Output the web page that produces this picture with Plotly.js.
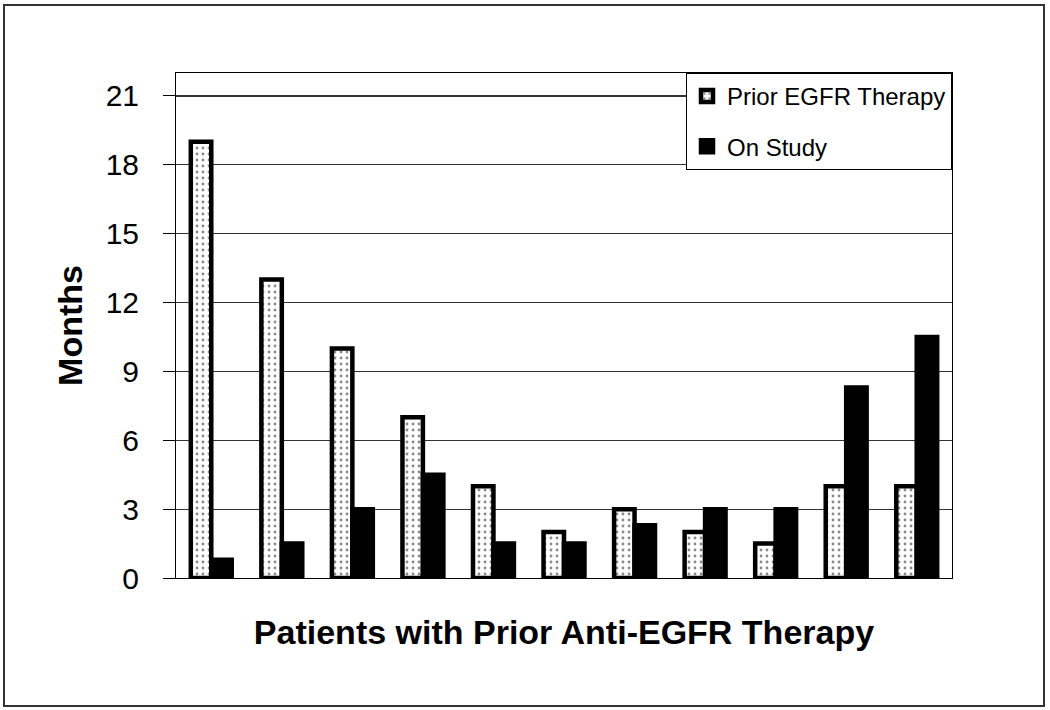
<!DOCTYPE html>
<html>
<head>
<meta charset="utf-8">
<script src="https://cdn.plot.ly/plotly-3.0.1.min.js"></script>
<style>
  html, body { margin: 0; padding: 0; background: #fff; }
  #chart { width: 1050px; height: 710px; }
</style>
</head>
<body>
<div id="chart"></div>
<script>
// Data
const patients = ['1', '2', '3', '4', '5', '6', '7', '8', '9', '10', '11'];
const priorEGFR = [19, 13, 10, 7, 4, 2, 3, 2, 1.5, 4, 4];
const onStudy   = [0.8, 1.5, 3, 4.5, 1.5, 1.5, 2.3, 3, 3, 8.3, 10.5];
const yTicks = [0, 3, 6, 9, 12, 15, 18, 21];
const seriesNames = ['Prior EGFR Therapy', 'On Study'];
const xTitle = 'Patients with Prior Anti-EGFR Therapy';
const yTitle = 'Months';

const FONT = 'Liberation Sans, Arial, sans-serif';

const traces = [
  {
    type: 'bar',
    name: seriesNames[0],
    legendgroup: 'a',
    x: patients,
    y: priorEGFR,
    marker: {
      color: '#ffffff',
      line: { color: '#000000', width: 4.5 },
      pattern: { shape: '.', fgcolor: '#8a8a8a', bgcolor: '#ffffff', size: 6, solidity: 0.18, fillmode: 'replace' }
    },
    hoverinfo: 'skip'
  },
  {
    type: 'bar',
    name: seriesNames[1],
    legendgroup: 'b',
    x: patients,
    y: onStudy,
    marker: { color: '#000000', line: { color: '#000000', width: 4.5 } },
    hoverinfo: 'skip'
  }
];

const layout = {
  width: 1050,
  height: 710,
  paper_bgcolor: '#ffffff',
  plot_bgcolor: '#ffffff',
  margin: { l: 176, r: 98, t: 73, b: 132, pad: 0 },
  barmode: 'group',
  bargap: 0.42,
  bargroupgap: 0,
  font: { family: FONT, color: '#000000' },
  showlegend: true,
  legend: {
    x: 1, xanchor: 'right', xref: 'paper',
    y: 1, yanchor: 'top', yref: 'paper',
    bgcolor: '#ffffff',
    bordercolor: '#000000',
    borderwidth: 1,
    font: { family: FONT, size: 24, color: '#000000' },
    tracegroupgap: 16,
    itemwidth: 30
  },
  xaxis: {
    type: 'category',
    showticklabels: false,
    ticks: '',
    showgrid: false,
    showline: true,
    linecolor: '#000000',
    linewidth: 1,
    mirror: true,
    zeroline: false,
    title: { text: xTitle, font: { family: FONT, size: 34, color: '#000000', weight: 'bold' }, standoff: 42 }
  },
  yaxis: {
    range: [0, 22],
    tickvals: yTicks,
    ticktext: yTicks.map(String),
    ticks: 'outside',
    ticklen: 12,
    tickcolor: '#000000',
    tickwidth: 1,
    ticklabelstandoff: 18,
    tickfont: { family: FONT, size: 30, color: '#000000' },
    showgrid: true,
    gridcolor: '#333333',
    gridwidth: 1.2,
    showline: true,
    linecolor: '#000000',
    linewidth: 1,
    mirror: true,
    zeroline: false,
    title: { text: yTitle, font: { family: FONT, size: 34, color: '#000000', weight: 'bold' }, standoff: 12 }
  },
  shapes: [
    {
      type: 'rect', xref: 'paper', yref: 'paper',
      x0: (4 - 176) / 776, x1: (1044 - 176) / 776,
      y0: (578 - 706) / 505, y1: (578 - 5) / 505,
      line: { color: '#333333', width: 2 },
      fillcolor: 'rgba(0,0,0,0)',
      layer: 'below'
    }
  ]
};

Plotly.newPlot('chart', traces, layout, { displayModeBar: false, staticPlot: true });
</script>
</body>
</html>
